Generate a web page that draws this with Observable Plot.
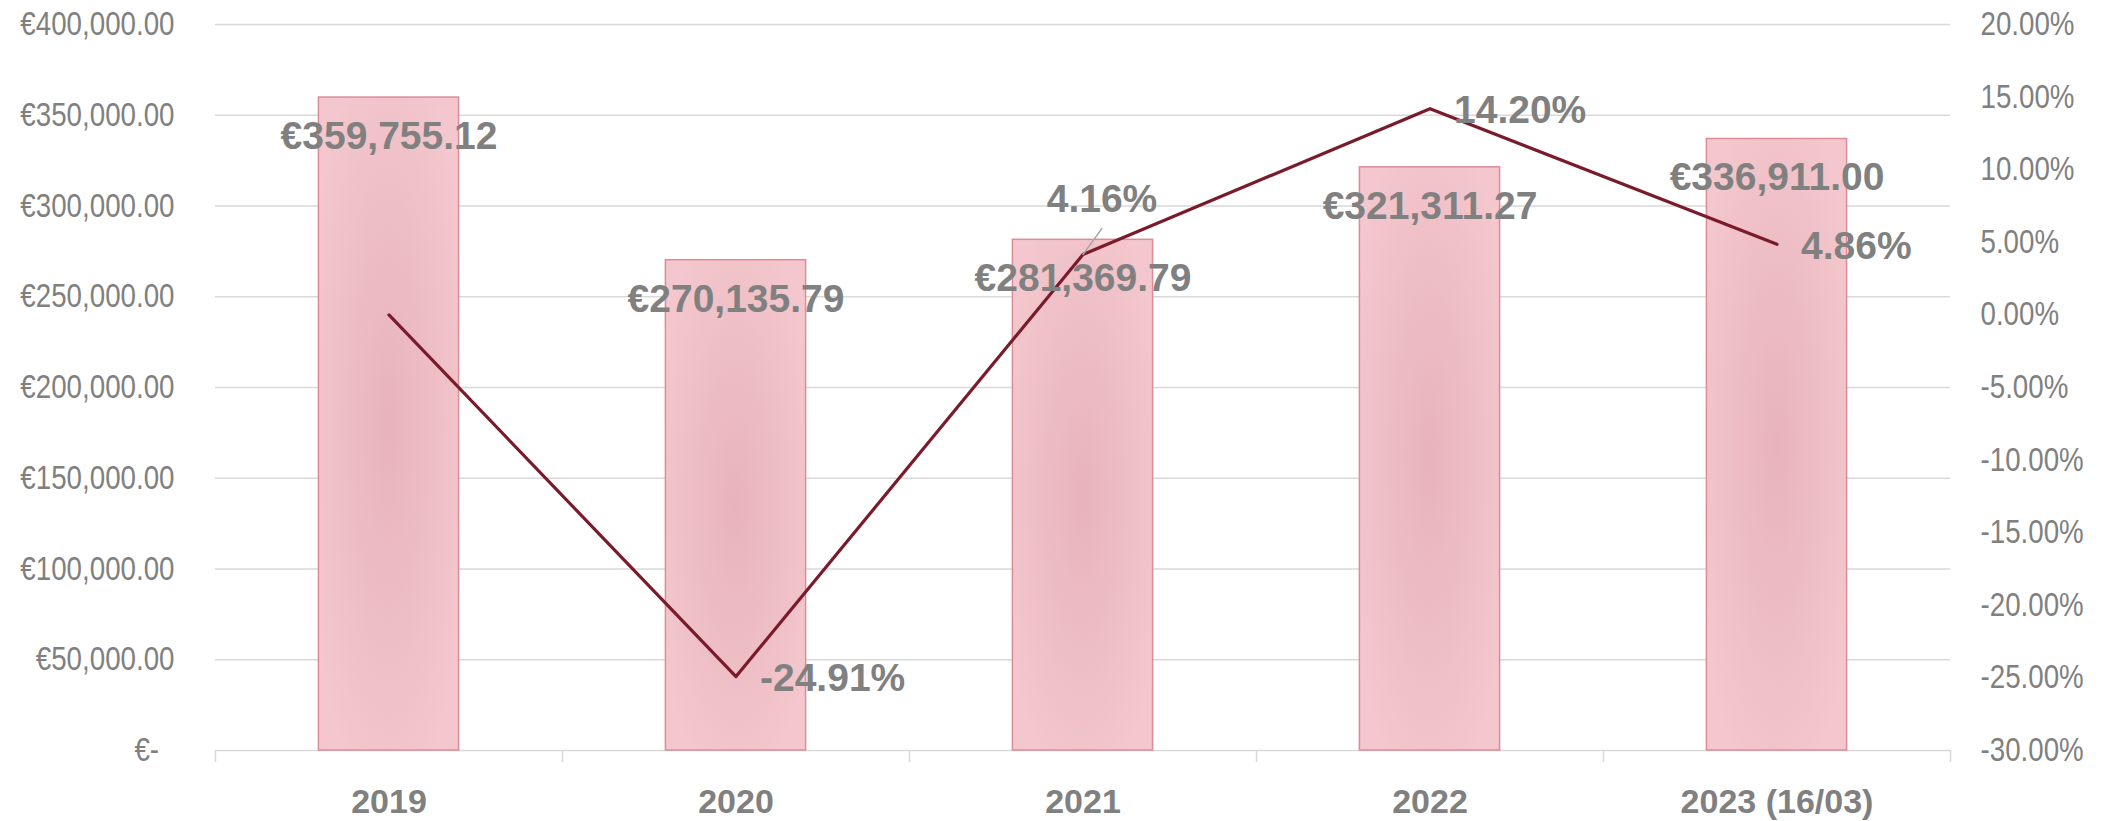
<!DOCTYPE html>
<html>
<head>
<meta charset="utf-8">
<script src="https://cdn.jsdelivr.net/npm/d3@7"></script>
<script src="https://cdn.jsdelivr.net/npm/@observablehq/plot@0.6"></script>
<style>
  html, body { margin: 0; padding: 0; background: #ffffff; }
  #chart svg { display: block; }
</style>
</head>
<body>
<div id="chart"></div>
<script>
// ---- data ----
const years = ["2019", "2020", "2021", "2022", "2023 (16/03)"];
const revenue = [359755.12, 270135.79, 281369.79, 321311.27, 336911.00];
const growth = [0, -0.2491, 0.0416, 0.1420, 0.0486];
const leftTicks = [0, 50000, 100000, 150000, 200000, 250000, 300000, 350000, 400000];
const rightTicks = [-0.30, -0.25, -0.20, -0.15, -0.10, -0.05, 0, 0.05, 0.10, 0.15, 0.20];

// ---- layout ----
const W = 2108, H = 821;
const mTop = 24, mBottom = 71, mLeft = 215, mRight = 158;
const step = (W - mLeft - mRight) / years.length;
const barInset = step * 0.298;

const leftMax = 400000, pMin = -0.30, pMax = 0.20;
const toLeft = p => (p - pMin) / (pMax - pMin) * leftMax;
const fromLeft = v => v / leftMax * (pMax - pMin) + pMin;

const rows = years.map((year, i) => ({year, revenue: revenue[i], growth: growth[i]}));

const sans = "'Liberation Sans', Arial, sans-serif";
const grey = "#808080";

const eur = d3.format(",.2f");
const leftFmt = d => d === 0 ? "€-\u00a0\u00a0" : "€" + eur(d);
const pct = p => (p * 100).toFixed(2) + "%";

const defs = () => {
  const ns = "http://www.w3.org/2000/svg";
  const d = document.createElementNS(ns, "defs");
  const g = document.createElementNS(ns, "radialGradient");
  g.setAttribute("id", "barGrad");
  g.setAttribute("cx", "0.5"); g.setAttribute("cy", "0.5"); g.setAttribute("r", "0.6");
  [["0", "#e8b3ba"], ["0.55", "#eebec5"], ["1", "#f3c7cd"]].forEach(([o, c]) => {
    const s = document.createElementNS(ns, "stop");
    s.setAttribute("offset", o); s.setAttribute("stop-color", c);
    g.appendChild(s);
  });
  d.appendChild(g);
  return d;
};

const chart = Plot.plot({
  width: W, height: H,
  marginTop: mTop, marginBottom: mBottom, marginLeft: mLeft, marginRight: mRight,
  style: {background: "#ffffff", fontFamily: sans, color: grey, overflow: "visible"},
  x: {type: "band", domain: years, padding: 0},
  y: {domain: [0, leftMax]},
  marks: [
    defs,
    Plot.gridY(leftTicks, {stroke: "#d9d9d9", strokeOpacity: 1, strokeWidth: 1.5}),
    // category boundary ticks
    Plot.ruleX(years, {x: d => d, y1: 0, y2: 0, insetBottom: -12, dx: -step / 2, stroke: "#d9d9d9", strokeWidth: 1.5}),
    Plot.ruleX(years.slice(-1), {x: d => d, y1: 0, y2: 0, insetBottom: -12, dx: step / 2, stroke: "#d9d9d9", strokeWidth: 1.5}),
    Plot.barY(rows, {x: "year", y: "revenue", fill: "url(#barGrad)", stroke: "#dc8c97", strokeWidth: 1.5,
      insetLeft: barInset, insetRight: barInset}),
    Plot.line(rows, {x: "year", y: d => toLeft(d.growth), stroke: "#7a1b2b", strokeWidth: 3.2}),
    // leader line for 4.16%
    Plot.vector(rows.filter(d => d.year === "2021"), {x: "year", y: d => toLeft(d.growth), anchor: "start",
      length: 32, rotate: 36, stroke: "#a6a6a6", strokeWidth: 1.5,
      shape: {draw(ctx, l) { ctx.moveTo(0, 0); ctx.lineTo(0, -l); }}}),
    Plot.axisY(leftTicks, {anchor: "left", tickSize: 0, tickPadding: 41, tickFormat: leftFmt,
      fontSize: 33, fill: grey, label: null, className: "narrow-ticks"}),
    Plot.axisY(rightTicks.map(toLeft), {anchor: "right", tickSize: 0, tickPadding: 30,
      tickFormat: d => pct(fromLeft(d)), fontSize: 33, fill: grey, label: null, className: "narrow-ticks"}),
    Plot.axisX({tickSize: 0, tickPadding: 38, fontSize: 34, fontWeight: "bold", fill: grey, label: null}),
    // value labels
    Plot.text(rows, {x: "year", y: "revenue", text: d => "€" + eur(d.revenue), dy: 39,
      fontSize: 39, fontWeight: "bold", fill: grey}),
    Plot.text(rows.filter(d => d.year !== "2019" && d.year !== "2021"), {x: "year", y: d => toLeft(d.growth),
      text: d => pct(d.growth), textAnchor: "start", dx: 24, dy: 2,
      fontSize: 39, fontWeight: "bold", fill: grey}),
    Plot.text(rows.filter(d => d.year === "2021"), {x: "year", y: d => toLeft(d.growth),
      text: d => pct(d.growth), dx: 19, dy: -55,
      fontSize: 39, fontWeight: "bold", fill: grey})
  ]
});
// narrow (condensed) look for the axis tick labels, like Arial Narrow
chart.querySelectorAll(".narrow-ticks text").forEach(t => {
  const tr = t.getAttribute("transform") || "";
  t.setAttribute("transform", (tr + " scale(0.84,1)").trim());
});
document.getElementById("chart").appendChild(chart);
</script>
</body>
</html>
